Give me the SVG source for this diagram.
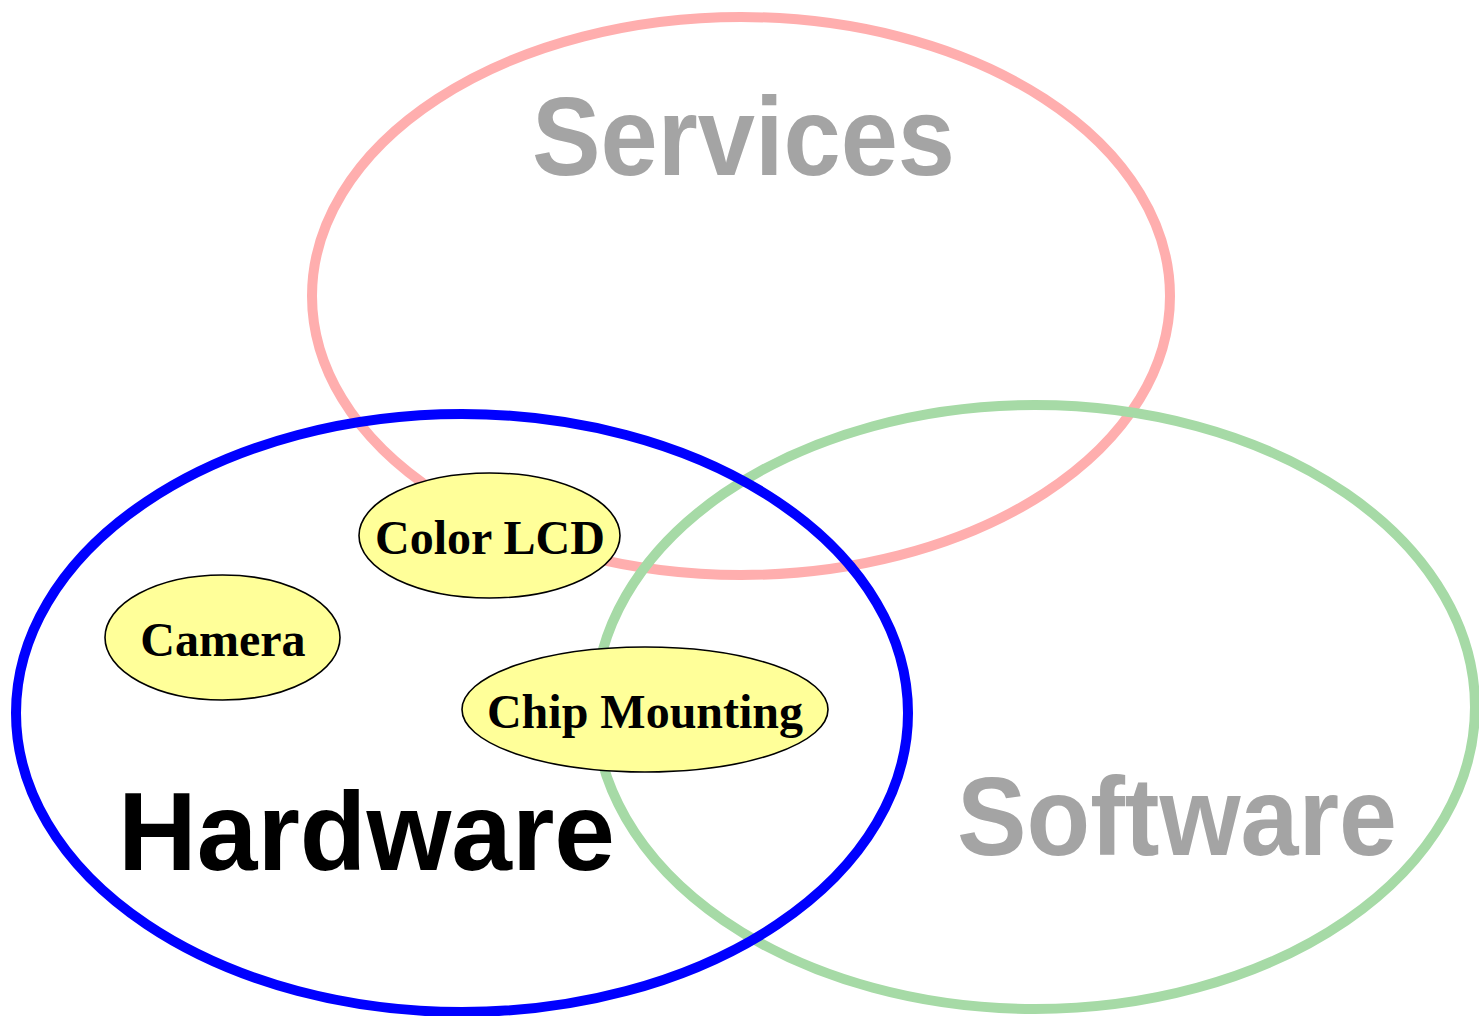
<svg xmlns="http://www.w3.org/2000/svg" width="1479" height="1016" viewBox="0 0 1479 1016">
  <style>
    .ring { fill: none; }
    .services-ring { stroke: #ffaeae; stroke-width: 10; }
    .software-ring { stroke: #a6daa6; stroke-width: 10; }
    .hardware-ring { stroke: #0000ff; stroke-width: 10; }
    .big { font-family: "Liberation Sans", Arial, sans-serif; font-weight: bold; font-size: 112px; }
    .faint { fill: #a4a4a4; }
    .item ellipse { fill: #ffff99; stroke: #000000; stroke-width: 1.6; }
    .item text { font-family: "Liberation Serif", "Times New Roman", serif; font-weight: bold; font-size: 48px; fill: #000000; text-anchor: middle; }
  </style>
  <rect width="1479" height="1016" fill="#ffffff"/>

  <g id="services">
    <ellipse class="ring services-ring" cx="741" cy="296" rx="429" ry="279"/>
  </g>
  <g id="software">
    <ellipse class="ring software-ring" cx="1035" cy="707" rx="440" ry="302"/>
  </g>
  <g id="services-label">
    <text class="big faint" x="532" y="175" textLength="423" lengthAdjust="spacingAndGlyphs">Services</text>
  </g>
  <g id="software-label">
    <text class="big faint" x="957" y="855" textLength="440" lengthAdjust="spacingAndGlyphs">Software</text>
  </g>
  <g id="hardware">
    <ellipse class="ring hardware-ring" cx="462" cy="713" rx="446" ry="299"/>
    <text class="big" x="118" y="870" textLength="497" lengthAdjust="spacingAndGlyphs" fill="#000000">Hardware</text>
  </g>

  <g id="color-lcd" class="item">
    <ellipse cx="489.5" cy="535.5" rx="130.5" ry="62.5"/>
    <text x="490" y="554">Color LCD</text>
  </g>
  <g id="camera" class="item">
    <ellipse cx="222.5" cy="637.5" rx="117.5" ry="62.5"/>
    <text x="223" y="656">Camera</text>
  </g>
  <g id="chip-mounting" class="item">
    <ellipse cx="645" cy="709.5" rx="183" ry="62.5"/>
    <text x="645" y="728">Chip Mounting</text>
  </g>

  <g id="connectors"/>
</svg>
